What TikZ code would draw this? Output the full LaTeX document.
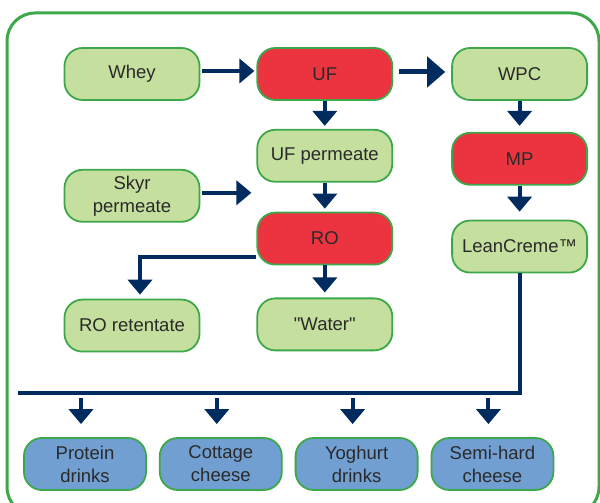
\documentclass[tikz,border=0pt]{standalone}
\usepackage{fontspec}
\setmainfont{Liberation Sans}[Ligatures=TeXOff]
\usetikzlibrary{arrows.meta}
\usetikzlibrary{positioning, calc}
\definecolor{leafgreen}{HTML}{C5DF9E}
\definecolor{edgegreen}{HTML}{3DA84A}
\definecolor{filtred}{HTML}{EC3440}
\definecolor{prodblue}{HTML}{719FD2}
\definecolor{flownavy}{HTML}{002B5F}
\definecolor{inkgray}{HTML}{2A2A2A}

\begin{document}
\begin{tikzpicture}[
    x=1pt, y=1pt,
    node distance=56pt,
    stage/.style={draw=edgegreen, fill=leafgreen, line width=1.8pt,
                  rounded corners=18pt, minimum width=135pt, minimum height=52pt,
                  text=inkgray, font=\fontsize{18.5}{23}\selectfont,
                  align=center, inner sep=2pt},
    filt/.style={stage, fill=filtred},
    prod/.style={stage, fill=prodblue, minimum width=122pt},
    flow/.style={flownavy, line width=4pt, line join=miter,
                 -{Triangle[length=15pt, width=24pt]}},
  ]
  \useasboundingbox (0,0) rectangle (600,503);
  % ---- outer frame ----
  \begin{scope}
    \clip (0,0) rectangle (600,503);
    \draw[edgegreen, line width=3pt, rounded corners=28pt] (7,490) rectangle (599,-12);
  \end{scope}

  % ---- whey line ----
  \node[stage] (whey) at (132,429) {Whey};
  \node[filt, right=56pt of whey] (uf) {UF};
  \node[stage, right=58pt of uf] (wpc) {WPC};
  \node[stage, below=28pt of uf] (ufperm) {UF permeate};
  \node[filt, below=29pt of ufperm] (ro) {RO};
  \node[stage, below=32pt of ro] (water) {"Water"};
  \node[stage, below=68pt of whey] (skyr) {Skyr\\permeate};
  \node[stage, below=76pt of skyr] (rore) {RO retentate};
  \node[filt, below=31pt of wpc] (mp) {MP};
  \node[stage, below=34pt of mp] (lean) {LeanCreme™};

  % ---- products ----
  \node[prod] (protein) at (85,39) {Protein\\drinks};
  \node[prod, right=12pt of protein] (cottage) {Cottage\\cheese};
  \node[prod, right=12pt of cottage] (yoghurt) {Yoghurt\\drinks};
  \node[prod, right=12pt of yoghurt] (semihard) {Semi-hard\\cheese};

  % ---- connectors ----
  \draw[flow, shorten <=2pt, shorten >=2pt]
    ([yshift=3pt]whey.east) -- ([yshift=3pt]uf.west);
  \draw[flow, line width=5pt, -{Triangle[length=18pt, width=30pt]},
        shorten <=6pt, shorten >=6pt]
    ([yshift=2pt]uf.east) -- ([yshift=2pt]wpc.west);
  \draw[flow, shorten >=3pt] (uf) -- (ufperm);
  \draw[flow, shorten >=3pt] (ufperm) -- (ro);
  \draw[flow, shorten >=5pt] (ro) -- (water);
  \draw[flow, shorten >=6pt] (wpc) -- (mp);
  \draw[flow, shorten >=8pt] (mp) -- (lean);

  \coordinate (skyrend) at ([xshift=-5pt]ufperm.west |- skyr.east);
  \draw[flow, shorten <=2pt] ([yshift=3pt]skyr.east) -- ([yshift=3pt]skyrend);
  \draw[flow, shorten >=4pt] ([yshift=-18pt]ro.west) -| ([xshift=8pt]rore.north);

  % ---- product bus ----
  \coordinate (busend) at (18,110);
  \draw[flownavy, line width=4pt, line join=miter] (lean.south) |- (busend);
  \foreach \p in {protein, cottage, yoghurt, semihard}
    \draw[flow] ([xshift=-4pt, yshift=39pt]\p.north) -- ([xshift=-4pt, yshift=13pt]\p.north);
\end{tikzpicture}
\end{document}
